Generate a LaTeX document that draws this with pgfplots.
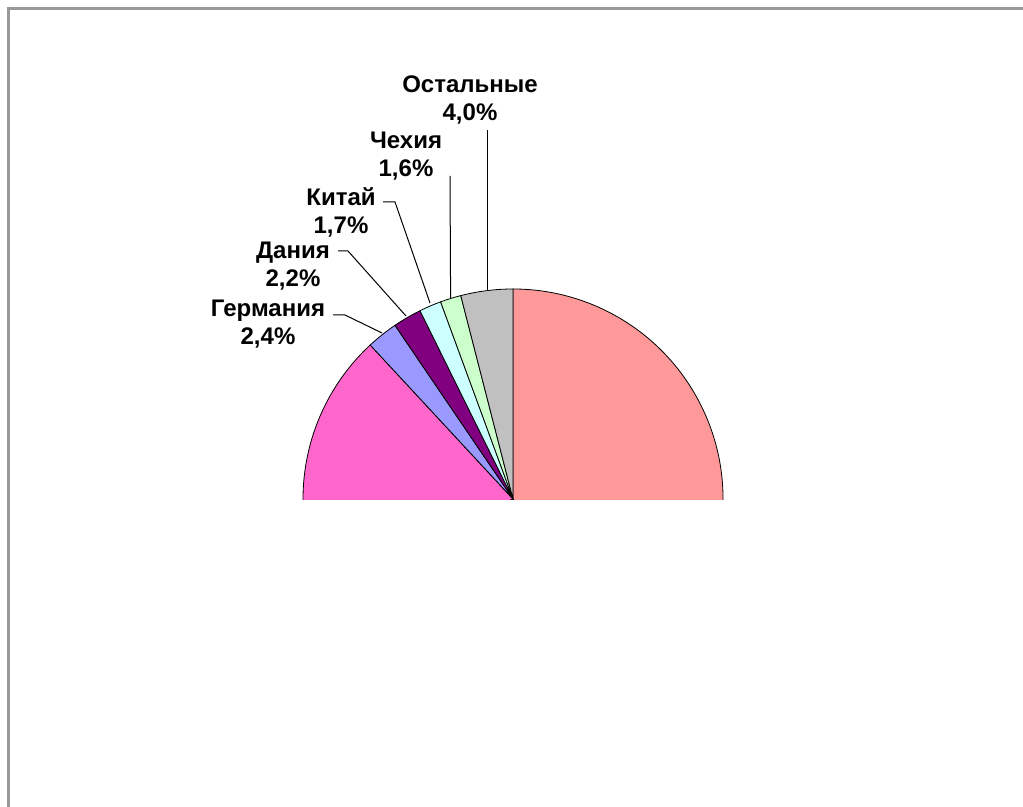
\documentclass[border=0pt]{standalone}
\usepackage{pgfplots}
\pgfplotsset{compat=1.18}
\usepackage{fontspec}
\setmainfont{Liberation Sans}
\definecolor{cSalmon}{HTML}{FF9999}
\definecolor{cMagenta}{HTML}{FF66CC}
\definecolor{cLav}{HTML}{9999FF}
\definecolor{cPurple}{HTML}{800080}
\definecolor{cCyan}{HTML}{CCFFFF}
\definecolor{cGreen}{HTML}{CCFFCC}
\definecolor{cGray}{HTML}{C0C0C0}
\definecolor{cFrame}{HTML}{999999}
% slice shares, percent
\def\vOst{4.0}
\def\vCz{1.6}
\def\vCn{1.7}
\def\vDk{2.2}
\def\vDe{2.4}
\pgfmathsetmacro\aA{90}
\pgfmathsetmacro\aB{\aA+3.6*\vOst}
\pgfmathsetmacro\aC{\aB+3.6*\vCz}
\pgfmathsetmacro\aD{\aC+3.6*\vCn}
\pgfmathsetmacro\aE{\aD+3.6*\vDk}
\pgfmathsetmacro\aF{\aE+3.6*\vDe}
\newcommand\slice[3]{%
  \filldraw[fill=#3, draw=black, line width=0.8bp]
    (axis cs:513,308) -- ([shift={(#1:210bp)}]axis cs:513,308)
    arc[start angle=#1, end angle=#2, radius=210bp] -- cycle;}
\begin{document}
\begin{tikzpicture}
\begin{axis}[width=1023bp, height=807bp, scale only axis,
  xmin=0, xmax=1023, ymin=0, ymax=807, hide axis, clip=true]
\path (axis cs:0,0) rectangle (axis cs:1023,807);
\draw[cFrame, line width=2.5bp] (axis cs:8.5,0) -- (axis cs:8.5,798.5) -- (axis cs:1023,798.5);
\begin{scope}
\clip (axis cs:0,307.5) rectangle (axis cs:1023,807);
\slice{-60}{90}{cSalmon}
\slice{\aF}{200}{cMagenta}
\slice{\aE}{\aF}{cLav}
\slice{\aD}{\aE}{cPurple}
\slice{\aC}{\aD}{cCyan}
\slice{\aB}{\aC}{cGreen}
\slice{\aA}{\aB}{cGray}
\end{scope}
\draw[black, line width=1bp] (axis cs:487,677) -- (axis cs:487,517);
\draw[black, line width=1bp] (axis cs:450,631) -- (axis cs:450.6,509);
\draw[black, line width=1bp] (axis cs:383,605) -- (axis cs:395,605) -- (axis cs:430,504);
\draw[black, line width=1bp] (axis cs:338,556) -- (axis cs:348,556) -- (axis cs:406,491);
\draw[black, line width=1bp] (axis cs:333,492) -- (axis cs:345,492) -- (axis cs:382,474);
\tikzset{lbl/.style={align=center, inner sep=0pt, font=\fontsize{24bp}{28bp}\selectfont\bfseries}}
\node[lbl] at (axis cs:470,707.5) {Остальные\\4,0\%};
\node[lbl] at (axis cs:406,651) {Чехия\\1,6\%};
\node[lbl] at (axis cs:341,594.5) {Китай\\1,7\%};
\node[lbl] at (axis cs:293,541) {Дания\\2,2\%};
\node[lbl] at (axis cs:268,483) {Германия\\2,4\%};
\end{axis}
\end{tikzpicture}
\end{document}
